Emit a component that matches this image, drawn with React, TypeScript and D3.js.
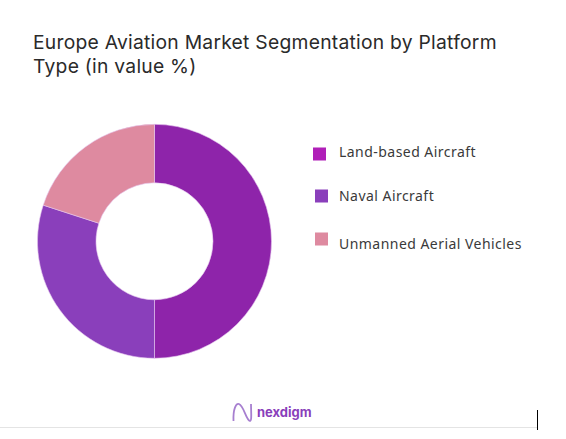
/**
 * Europe Aviation Market donut chart
 */

import { useEffect, useRef } from 'react';
import * as d3 from 'd3';

const categories = ['Land-based Aircraft', 'Naval Aircraft', 'Unmanned Aerial Vehicles'];
const values = [50, 30, 20];
const colors = ['#8e24aa', '#8a3fbb', '#de8aa0'];
const legendColors = ['#b01fb8', '#8a3fbb', '#de8aa0'];
const titleLines = ['Europe Aviation Market Segmentation by Platform', 'Type (in value %)'];

const width = 566;
const height = 439;

export default function App() {
  const svgRef = useRef<SVGSVGElement>(null);

  useEffect(() => {
    if (!svgRef.current) return;
    const svg = d3.select(svgRef.current);
    svg.selectAll('*').remove();

    // Title
    svg.append('g')
      .selectAll('text')
      .data(titleLines)
      .join('text')
      .attr('x', 33)
      .attr('y', (_d, i) => 49 + i * 24)
      .attr('fill', '#2a2a2a')
      .style('font-family', 'Inter, sans-serif')
      .style('font-size', '19.3px')
      .style('font-weight', 400)
      .style('letter-spacing', '0.25px')
      .text(d => d);

    // Donut
    const pie = d3.pie<number>().sort(null);
    const arc = d3.arc<d3.PieArcDatum<number>>()
      .innerRadius(58.5)
      .outerRadius(117);

    svg.append('g')
      .attr('transform', 'translate(154.5,241.3)')
      .selectAll('path')
      .data(pie(values))
      .join('path')
      .attr('d', arc)
      .attr('fill', (_d, i) => colors[i])
      .attr('stroke', '#e6c8ee')
      .attr('stroke-width', 0.6);

    // Legend
    const swatchX = [313, 315, 315];
    const swatchY = [154, 196, 239];
    const labelY = [157, 201, 249];

    const legend = svg.append('g')
      .selectAll('g')
      .data(categories)
      .join('g');

    legend.append('rect')
      .attr('x', (_d, i) => swatchX[i])
      .attr('y', (_d, i) => swatchY[i] - 6.5)
      .attr('width', 13)
      .attr('height', 13)
      .attr('fill', (_d, i) => legendColors[i]);

    legend.append('text')
      .attr('x', 339)
      .attr('y', (_d, i) => labelY[i])
      .attr('fill', '#3a3a3a')
      .style('font-family', '"Noto Sans", sans-serif')
      .style('font-size', '14px')
      .style('letter-spacing', '0.46px')
      .text(d => d);

    // Logo
    const logo = svg.append('g');
    logo.append('path')
      .attr('d', 'M233.5 421 C233 409 236 403 239 404 C244 406 246 420 250 421 C252 421 251 411 251 404')
      .attr('fill', 'none')
      .attr('stroke', '#a77fd0')
      .attr('stroke-width', 1.8);
    logo.append('text')
      .attr('x', 257)
      .attr('y', 417)
      .attr('fill', '#8a3fbb')
      .style('font-family', 'Inter, sans-serif')
      .style('font-size', '13px')
      .style('font-weight', 700)
      .text('nexdigm');

    // Footer rule and stray cursor mark
    svg.append('line')
      .attr('x1', 0).attr('x2', 537)
      .attr('y1', 427.5).attr('y2', 427.5)
      .attr('stroke', '#e4e4e4');
    svg.append('line')
      .attr('x1', 537.5).attr('x2', 537.5)
      .attr('y1', 410).attr('y2', 430)
      .attr('stroke', '#000');
  }, []);

  return (
    <svg
      ref={svgRef}
      width={width}
      height={height}
      style={{ position: 'absolute', left: 0, top: 0, background: '#fff' }}
    />
  );
}
